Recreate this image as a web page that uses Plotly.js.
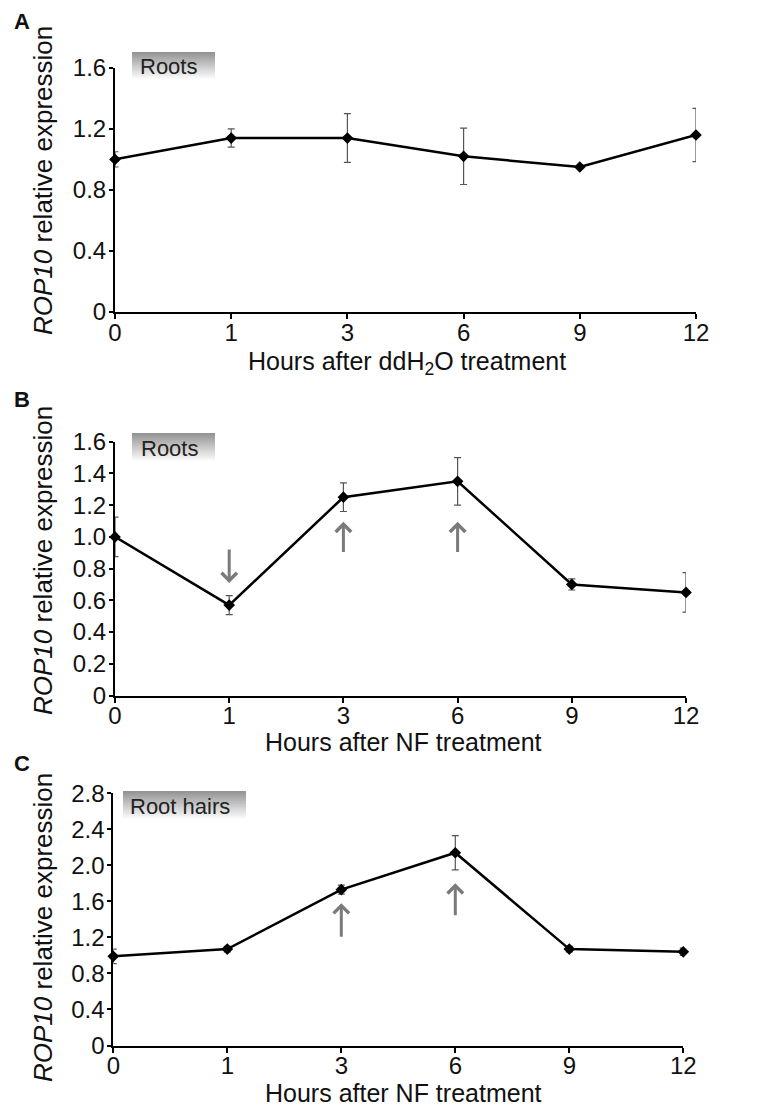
<!DOCTYPE html>
<html><head><meta charset="utf-8">
<script src="https://cdn.plot.ly/plotly-3.0.1.min.js"></script>
<style>html,body{margin:0;padding:0;background:#fff;} #chart{width:768px;height:1108px;}</style>
</head><body><div id="chart"></div>
<script>
// ---- data ----
const hours = ["0", "1", "3", "6", "9", "12"];
const rootsWaterMean = [1.00, 1.14, 1.14, 1.02, 0.95, 1.16];
const rootsWaterErr  = [0.05, 0.06, 0.16, 0.185, 0.01, 0.175];
const rootsNFMean    = [1.00, 0.57, 1.25, 1.35, 0.70, 0.65];
const rootsNFErr     = [0.125, 0.06, 0.09, 0.15, 0.035, 0.125];
const hairsNFMean    = [0.99, 1.07, 1.73, 2.14, 1.07, 1.04];
const hairsNFErr     = [0.08, 0.03, 0.05, 0.19, 0.03, 0.04];

const yTicksA = [0, 0.4, 0.8, 1.2, 1.6];
const yTickTextA = ["0", "0.4", "0.8", "1.2", "1.6"];
const yTicksB = [0, 0.2, 0.4, 0.6, 0.8, 1.0, 1.2, 1.4, 1.6];
const yTickTextB = ["0", "0.2", "0.4", "0.6", "0.8", "1.0", "1.2", "1.4", "1.6"];
const yTicksC = [0, 0.4, 0.8, 1.2, 1.6, 2.0, 2.4, 2.8];
const yTickTextC = ["0", "0.4", "0.8", "1.2", "1.6", "2.0", "2.4", "2.8"];

// arrows: hour, tail value, tip value
const arrowsB = [{hour: "1", from: 0.93, to: 0.71}, {hour: "3", from: 0.895, to: 1.095}, {hour: "6", from: 0.895, to: 1.095}];
const arrowsC = [{hour: "3", from: 1.19, to: 1.58}, {hour: "6", from: 1.43, to: 1.80}];

const panelLabels = ["A", "B", "C"];
const tissueLabels = ["Roots", "Roots", "Root hairs"];
const xTitles = ["Hours after ddH<sub>2</sub>O treatment", "Hours after NF treatment", "Hours after NF treatment"];
const yTitle = "<i>ROP10</i> relative expression";

// ---- layout helpers ----
const W = 768, H = 1108;
const FONT = 'Arial, "Liberation Sans", sans-serif';
const px = v => v / W;
const py = v => 1 - v / H;

function trace(mean, err, xa, ya) {
  return {
    x: hours, y: mean, xaxis: xa, yaxis: ya,
    type: 'scatter', mode: 'lines+markers', cliponaxis: false,
    line: {color: '#000', width: 2.5},
    marker: {symbol: 'diamond', size: 9, color: '#000'},
    error_y: {type: 'data', array: err, visible: true, color: '#555', thickness: 1.2, width: 3.5}
  };
}

const data = [
  trace(rootsWaterMean, rootsWaterErr, 'x', 'y'),
  trace(rootsNFMean, rootsNFErr, 'x2', 'y2'),
  trace(hairsNFMean, hairsNFErr, 'x3', 'y3')
];

function xAxis(domain, anchor) {
  return {
    type: 'category', range: [0, hours.length - 1], domain: domain, anchor: anchor,
    showline: true, linecolor: '#000', linewidth: 2, ticks: 'outside', ticklen: 5,
    tickwidth: 2, tickcolor: '#000', showgrid: false, zeroline: false, ticklabelstandoff: -7,
    tickfont: {size: 24, color: '#111', family: FONT}, fixedrange: true
  };
}
function yAxis(domain, anchor, range, tv, tt) {
  return {
    range: range, domain: domain, anchor: anchor, tickmode: 'array', tickvals: tv, ticktext: tt,
    showline: true, linecolor: '#000', linewidth: 2, ticks: 'outside', ticklen: 4,
    tickwidth: 2, tickcolor: '#000', showgrid: false, zeroline: false, ticklabelstandoff: -2,
    tickfont: {size: 24, color: '#111', family: FONT}, fixedrange: true
  };
}

// panel geometry (pixels)
const panels = [
  {x0: 115, x1: 696, yb: 311.7, yt: 68, range: [0, 1.6], tv: yTicksA, tt: yTickTextA,
   box: [132, 215, 52, 80], boxText: 138, labelY: 22, yTitleY: 181, xTitleX: 407, xTitleY: 363},
  {x0: 115, x1: 686, yb: 695.5, yt: 441.7, range: [0, 1.6], tv: yTicksB, tt: yTickTextB,
   box: [132, 215, 433, 462], boxText: 139, labelY: 399, yTitleY: 561, xTitleX: 403, xTitleY: 742},
  {x0: 113.3, x1: 683.3, yb: 1045.5, yt: 793.3, range: [0, 2.8], tv: yTicksC, tt: yTickTextC,
   box: [123, 246, 791, 820], boxText: 128, labelY: 763, yTitleY: 928, xTitleX: 403, xTitleY: 1093}
];

const layout = {
  width: W, height: H, margin: {l: 0, r: 0, t: 0, b: 0},
  paper_bgcolor: '#fff', plot_bgcolor: 'rgba(0,0,0,0)', showlegend: false,
  font: {family: FONT, color: '#111'},
  annotations: [], shapes: []
};

panels.forEach((p, i) => {
  const sfx = i === 0 ? '' : String(i + 1);
  const xd = [px(p.x0), px(p.x1)];
  const yd = [py(p.yb), py(p.yt)];
  layout['xaxis' + sfx] = xAxis(xd, 'y' + sfx);
  layout['yaxis' + sfx] = yAxis(yd, 'x' + sfx, p.range, p.tv, p.tt);

  // panel letter
  layout.annotations.push({xref: 'paper', yref: 'paper', x: px(12), y: py(p.labelY), xanchor: 'left', yanchor: 'middle',
    text: '<b>' + panelLabels[i] + '</b>', showarrow: false, font: {size: 22, color: '#111', family: FONT}});
  // y title
  layout.annotations.push({xref: 'paper', yref: 'paper', x: px(43), y: py(p.yTitleY), xanchor: 'center', yanchor: 'middle',
    text: yTitle, textangle: -90, showarrow: false, font: {size: 26, color: '#111', family: FONT}});
  // x title
  layout.annotations.push({xref: 'paper', yref: 'paper', x: px(p.xTitleX), y: py(p.xTitleY), xanchor: 'center', yanchor: 'middle',
    text: xTitles[i], showarrow: false, font: {size: 25, color: '#111', family: FONT}});

  // gradient box (stacked bands, each reaching the bottom so no seams)
  const [bx0, bx1, by0, by1] = p.box;
  const N = 20;
  for (let k = 0; k < N; k++) {
    const g = Math.round(148 + (255 - 148) * k / (N - 1));
    layout.shapes.push({type: 'rect', xref: 'paper', yref: 'paper', layer: 'below',
      x0: px(bx0), x1: px(bx1), y0: py(by1), y1: py(by0 + (by1 - by0) * k / N),
      line: {width: 0}, fillcolor: `rgb(${g},${g},${g})`});
  }
  layout.annotations.push({xref: 'paper', yref: 'paper', x: px(p.boxText), y: py((by0 + by1) / 2 + 1), xanchor: 'left', yanchor: 'middle',
    text: tissueLabels[i], showarrow: false, font: {size: 22, color: '#222', family: FONT}});
});

function addArrows(list, sfx) {
  list.forEach(a => {
    const idx = hours.indexOf(a.hour);
    layout.annotations.push({xref: 'x' + sfx, yref: 'y' + sfx, axref: 'x' + sfx, ayref: 'y' + sfx,
      x: idx, y: a.to, ax: idx, ay: a.from, text: '', showarrow: true,
      arrowhead: 4, arrowsize: 1, arrowwidth: 3, arrowcolor: '#7a7a7a', standoff: 0, startstandoff: 0});
  });
}
addArrows(arrowsB, '2');
addArrows(arrowsC, '3');

Plotly.newPlot('chart', data, layout, {displayModeBar: false, staticPlot: true});
</script>
</body></html>
